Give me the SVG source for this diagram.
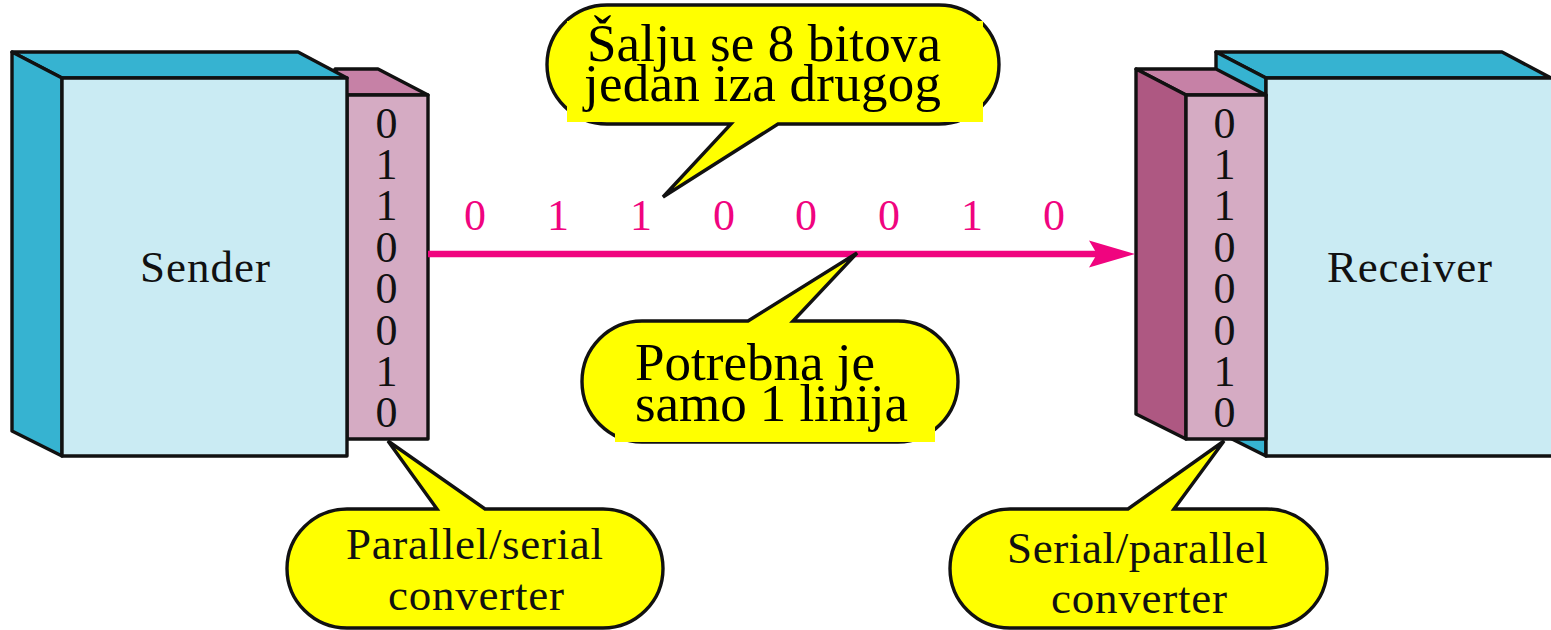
<svg xmlns="http://www.w3.org/2000/svg" width="1551" height="630" viewBox="0 0 1551 630">
<style>
text{font-family:"Liberation Serif","Times New Roman",serif;fill:#111}
.e{stroke:#111;stroke-width:3.4;stroke-linejoin:round}
.teal{fill:#36b3d1}.light{fill:#caebf3}.pd{fill:#ae5882}.pt{fill:#c681a6}.pf{fill:#d5abc3}
.y{fill:#ff0;stroke:#111;stroke-width:3.4;stroke-linejoin:miter}
.yr{fill:#ff0}
.d{font-size:44px;text-anchor:middle}
.b{font-size:45px}
.m{font-size:53px;fill:#000}
.p{font-size:44px;text-anchor:middle;fill:#f0047f}
</style>
<defs>
<g id="bits"><text class="d" y="0">0</text><text class="d" y="41.4">1</text><text class="d" y="82.8">1</text><text class="d" y="124.2">0</text><text class="d" y="165.6">0</text><text class="d" y="207">0</text><text class="d" y="248.4">1</text><text class="d" y="289.8">0</text></g>
</defs>
<g id="sender-converter">
<path class="e pt" d="M335 69H378L428 95H347Z"/>
<rect class="e pf" x="347" y="95" width="81" height="344"/>
<use href="#bits" x="386.500" y="137.500"/>
</g>
<g id="sender">
<path class="e teal" d="M12 52H298L347 78H62Z"/>
<path class="e teal" d="M12 52L62 78V456L12 431Z"/>
<rect class="e light" x="62" y="78" width="285" height="378"/>
<text class="b" x="140" y="282" textLength="130">Sender</text>
</g>
<g id="receiver">
<path class="e teal" d="M1216 52H1502L1551 78H1266Z"/>
<path class="e teal" d="M1216 52L1266 78V456L1216 431Z"/>
<rect class="e light" x="1266" y="78" width="287" height="378"/>
<text class="b" x="1327" y="282" textLength="165">Receiver</text>
</g>
<g id="receiver-converter">
<path class="e pt" d="M1136 69H1216L1266 95H1186Z"/>
<path class="e pd" d="M1136 69L1186 95V439L1136 414Z"/>
<rect class="e pf" x="1186" y="95" width="80" height="344"/>
<use href="#bits" x="1224.500" y="137.500"/>
</g>
<g id="connectors">
<path d="M428 254H1100" stroke="#f0047f" stroke-width="6.500" fill="none"/>
<path d="M1135 254L1089 240.500L1097 254L1089 267.500Z" fill="#f0047f"/>
</g>
<g id="bit-stream">
<text class="p" x="475" y="229.500">0</text><text class="p" x="558" y="229.500">1</text><text class="p" x="641" y="229.500">1</text><text class="p" x="724" y="229.500">0</text><text class="p" x="806" y="229.500">0</text><text class="p" x="889" y="229.500">0</text><text class="p" x="972" y="229.500">1</text><text class="p" x="1054" y="229.500">0</text>
</g>
<g id="callout-top">
<path class="y" d="M607 5H939A60 59.500 0 0 1 939 124H778L663 197L731 124H607A60 59.500 0 0 1 607 5Z"/>
<rect class="yr" x="567" y="21" width="416" height="101"/>
<text class="m" x="587" y="61" textLength="354">Šalju se 8 bitova</text>
<text class="m" x="584" y="101" textLength="357">jedan iza drugog</text>
</g>
<g id="callout-middle">
<path class="y" d="M642 321H748L857 253L793 321H898A60 60.500 0 0 1 898 442H642A60 60.500 0 0 1 642 321Z"/>
<rect class="yr" x="615" y="345" width="320" height="97"/>
<text class="m" x="635" y="380" textLength="240">Potrebna je</text>
<text class="m" x="635" y="421" textLength="273">samo 1 linija</text>
</g>
<g id="callout-parallel-serial">
<path class="y" d="M347 509H437L388 441L485 509H603A60 59.500 0 0 1 603 628H347A60 59.500 0 0 1 347 509Z"/>
<text class="b" x="346" y="559" textLength="257">Parallel/serial</text>
<text class="b" x="388" y="610" textLength="176">converter</text>
</g>
<g id="callout-serial-parallel">
<path class="y" d="M1010 509H1128L1224 441L1174 509H1267A60 59.500 0 0 1 1267 628H1010A60 59.500 0 0 1 1010 509Z"/>
<text class="b" x="1007" y="563" textLength="261">Serial/parallel</text>
<text class="b" x="1051" y="613" textLength="176">converter</text>
</g>
</svg>
